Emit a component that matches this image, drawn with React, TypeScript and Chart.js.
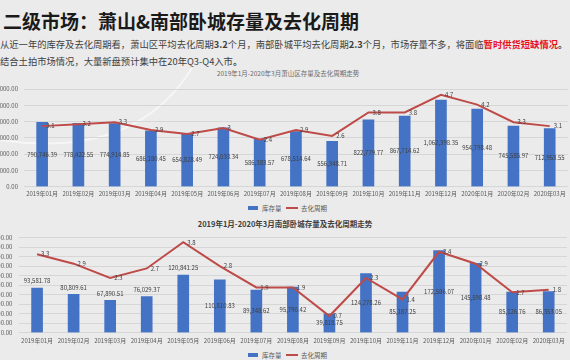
import React, { useEffect, useRef } from 'react';
import { Chart, registerables } from 'chart.js';

Chart.register(...registerables);

const months = [
  '2019年01月', '2019年02月', '2019年03月', '2019年04月', '2019年05月',
  '2019年06月', '2019年07月', '2019年08月', '2019年09月', '2019年10月',
  '2019年11月', '2019年12月', '2020年01月', '2020年02月', '2020年03月',
];

// 萧山区
const xsStock = [
  790746.39, 778422.55, 774914.85, 686180.45, 654828.49,
  724033.34, 586383.57, 678514.64, 556348.71, 822779.77,
  867714.62, 1062398.35, 954798.48, 745585.97, 712953.55,
];
const xsCycle = [3.1, 3.2, 3.3, 2.9, 2.7, 3, 2.4, 2.9, 2.6, 3.8, 3.8, 4.7, 4.2, 3.3, 3.1];

// 南部卧城
const nbStock = [
  93581.78, 80809.61, 67890.51, 76029.37, 120841.25,
  110810.83, 89348.62, 95790.42, 39818.75, 124278.26,
  85187.25, 172586.07, 145598.48, 85126.76, 86353.05,
];
const nbCycle = [3.3, 2.9, 2.3, 2.7, 3.8, 2.8, 1.9, 1.9, 0.7, 2.3, 1.4, 3.4, 2.9, 1.7, 1.8];

const seriesNames = ['库存量', '去化周期'];

const FONT = "'Noto Sans CJK SC', 'Noto Sans', sans-serif";
const BAR_COLOR = '#4472C4';
const LINE_COLOR = '#BE4B48';

const fmt2 = (v: number) =>
  v.toLocaleString('en-US', { minimumFractionDigits: 2, maximumFractionDigits: 2 });

const valueLabels = {
  id: 'valueLabels',
  afterDatasetsDraw(chart: any, _args: any, opts: any) {
    const ctx = chart.ctx;
    ctx.save();
    ctx.font = `6px ${FONT}`;
    ctx.fillStyle = '#404040';
    chart.data.datasets.forEach((ds: any, di: number) => {
      const meta = chart.getDatasetMeta(di);
      meta.data.forEach((el: any, i: number) => {
        const v = ds.data[i] as number;
        if (ds.type === 'bar') {
          ctx.textAlign = 'center';
          ctx.textBaseline = 'middle';
          const mode = opts.barMode ? opts.barMode(i) : 'center';
          const y = mode === 'end' ? el.y - 7 : (el.y + el.base) / 2;
          ctx.fillText(fmt2(v), el.x, y);
        } else {
          ctx.textAlign = 'left';
          ctx.textBaseline = 'middle';
          ctx.fillText(String(v), el.x + 4, el.y);
        }
      });
    });
    ctx.restore();
  },
};

type ComboProps = {
  left: number; top: number; width: number; height: number;
  stock: number[]; cycle: number[];
  yMax: number; yStep: number; y1Max: number;
  axisWidth: number; padTop: number; xAxisHeight: number;
  tickPadY: number; tickPadX: number;
  barMode: (i: number) => string;
};

function Combo(p: ComboProps) {
  const ref = useRef<HTMLCanvasElement>(null);
  useEffect(() => {
    const chart = new Chart(ref.current as HTMLCanvasElement, {
      type: 'bar',
      data: {
        labels: months,
        datasets: [
          {
            type: 'line',
            label: seriesNames[1],
            data: p.cycle,
            borderColor: LINE_COLOR,
            borderWidth: 2,
            pointRadius: 0,
            tension: 0,
            yAxisID: 'y1',
            order: 1,
          } as any,
          {
            type: 'bar',
            label: seriesNames[0],
            data: p.stock,
            backgroundColor: BAR_COLOR,
            barThickness: 11,
            yAxisID: 'y',
            order: 2,
          } as any,
        ],
      },
      options: {
        responsive: false,
        animation: false,
        devicePixelRatio: 1,
        layout: { padding: { top: p.padTop, left: 0, right: 0, bottom: 0 } },
        plugins: {
          legend: { display: false },
          tooltip: { enabled: false },
          title: { display: false },
          valueLabels: { barMode: p.barMode },
        } as any,
        scales: {
          x: {
            offset: true,
            grid: { display: false, drawTicks: false },
            border: { display: false },
            ticks: {
              font: { size: 6, family: FONT, lineHeight: 1 },
              color: '#595959',
              padding: p.tickPadX,
              maxRotation: 0,
              minRotation: 0,
              autoSkip: false,
            },
            afterFit: (s: any) => { s.height = p.xAxisHeight; },
          },
          y: {
            position: 'left',
            min: 0,
            max: p.yMax,
            ticks: {
              count: Math.round(p.yMax / p.yStep) + 1,
              autoSkip: false,
              callback: (v: any) => fmt2(Number(v)),
              font: { size: 6, family: FONT, lineHeight: 1 },
              color: '#595959',
              padding: p.tickPadY,
            },
            grid: { color: '#d6d6d6', drawTicks: false, lineWidth: 1 },
            border: { display: false },
            afterFit: (s: any) => { s.width = p.axisWidth; },
          },
          y1: { display: false, min: 0, max: p.y1Max, position: 'right' },
        },
      } as any,
      plugins: [valueLabels],
    });
    return () => chart.destroy();
  }, []);
  return (
    <canvas
      ref={ref}
      width={p.width}
      height={p.height}
      style={{ position: 'absolute', left: p.left, top: p.top, width: p.width, height: p.height }}
    />
  );
}

function Legend({ top }: { top: number }) {
  const txt: React.CSSProperties = {
    position: 'absolute', top: top - 5, fontSize: 6.5, lineHeight: '10px',
    color: '#595959', fontFamily: FONT, whiteSpace: 'nowrap',
  };
  return (
    <>
      <div style={{ position: 'absolute', left: 248, top: top - 2, width: 10, height: 4, background: BAR_COLOR }} />
      <div style={{ ...txt, left: 262 }}>{seriesNames[0]}</div>
      <div style={{ position: 'absolute', left: 286, top: top - 1, width: 12, height: 2, background: LINE_COLOR }} />
      <div style={{ ...txt, left: 301 }}>{seriesNames[1]}</div>
    </>
  );
}

export default function App() {
  const para: React.CSSProperties = {
    position: 'absolute', left: 0, fontSize: 9.3, lineHeight: '9.3px',
    color: '#404040', fontFamily: FONT, whiteSpace: 'nowrap',
  };
  return (
    <div
      style={{
        position: 'fixed', left: 0, top: 0, width: 570, height: 360,
        overflow: 'hidden', background: '#ebebeb', fontFamily: FONT,
      }}
    >
      <svg width={570} height={360} style={{ position: 'absolute', left: 0, top: 0 }}>
        <path d="M 0 140 Q 135 160 192 68" stroke="rgba(255,255,255,0.55)" strokeWidth={2} fill="none" />
      </svg>
      <div
        style={{
          position: 'absolute', left: 3, top: 10.5, fontSize: 19, lineHeight: '19px',
          fontWeight: 700, color: '#1a1a1a', whiteSpace: 'nowrap',
        }}
      >
        二级市场：萧山&amp;南部卧城存量及去化周期
      </div>
      <div style={{ ...para, top: 40 }}>
        从近一年的库存及去化周期看，萧山区平均去化周期<b>3.2</b>个月，南部卧城平均去化周期<b>2.3</b>个月，市场存量不多，将面临
        <b style={{ color: '#e8101c' }}>暂时供货短缺情况</b>
        <b>。</b>
      </div>
      <div style={{ ...para, top: 57 }}>
        结合土拍市场情况，大量新盘预计集中在20年Q3-Q4入市<b>。</b>
      </div>
      <div
        style={{
          position: 'absolute', left: 0, width: 576, top: 68.5, textAlign: 'center',
          fontSize: 6.5, lineHeight: '8px', color: '#6b6b6b', whiteSpace: 'nowrap',
        }}
      >
        2019年1月-2020年3月萧山区存量及去化周期走势
      </div>
      <Combo
        left={-44} top={80} width={614} height={120}
        stock={xsStock} cycle={xsCycle}
        yMax={1200000} yStep={200000} y1Max={5}
        axisWidth={68} padTop={6.7} xAxisHeight={13.3}
        tickPadY={6} tickPadX={4.3}
        barMode={() => 'center'}
      />
      <Legend top={208} />
      <div
        style={{
          position: 'absolute', left: 0, width: 570, top: 218.5, textAlign: 'center',
          fontSize: 7.5, lineHeight: '9px', fontWeight: 700, color: '#404040', whiteSpace: 'nowrap',
        }}
      >
        2019年1月-2020年3月南部卧城存量及去化周期走势
      </div>
      <Combo
        left={-50} top={228} width={620} height={120}
        stock={nbStock} cycle={nbCycle}
        yMax={200000} yStep={20000} y1Max={4}
        axisWidth={68.8} padTop={8.7} xAxisHeight={15.3}
        tickPadY={6.5} tickPadX={5.3}
        barMode={(i) => (i < 5 ? 'end' : 'center')}
      />
      <Legend top={355} />
    </div>
  );
}
